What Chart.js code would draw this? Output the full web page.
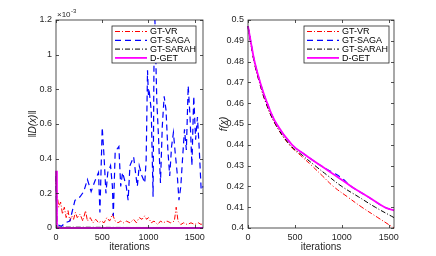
<!DOCTYPE html>
<html>
<head>
<meta charset="utf-8">
<script src="https://cdn.jsdelivr.net/npm/chart.js@4.4.1/dist/chart.umd.min.js"></script>
<style>
  body { margin: 0; background: #fff; }
  canvas { display: block; float: left; }
</style>
</head>
<body>
<canvas id="norm-chart" width="218" height="256"></canvas>
<canvas id="loss-chart" width="218" height="256"></canvas>
<script>
// series (MATLAB plot order: last one on top)
const seriesNames  = ['GT-VR', 'GT-SAGA', 'GT-SARAH', 'D-GET'];
const seriesColors = ['#ff0000', '#0000ff', '#000000', '#ff00ff'];
const seriesDash   = [[5, 2, 1, 2], [6, 4], [5, 2, 1, 2], []];
const seriesWidth  = [1, 1.2, 1, 1.8];

const xTicks    = [0, 500, 1000, 1500];
const normTicks = [0, 0.2, 0.4, 0.6, 0.8, 1, 1.2];
const lossTicks = [0.4, 0.41, 0.42, 0.43, 0.44, 0.45, 0.46, 0.47, 0.48, 0.49, 0.5];

// left panel: ||D(x)||, in units of 1e-3
const vrIter = [0, 10, 30, 50, 70, 90, 110, 130, 150, 170, 190, 210, 230, 260, 290, 320, 340, 370, 400, 430, 460, 490, 520, 550, 580, 610, 640, 670, 700, 730, 760, 800, 840, 870, 900, 930, 960, 980, 1000, 1030, 1060, 1100, 1130, 1160, 1200, 1240, 1280, 1300, 1320, 1350, 1380, 1420, 1460, 1500, 1540, 1570, 1590];
const vrNorm = [0.28, 0.2, 0.12, 0.15, 0.08, 0.12, 0.06, 0.1, 0.04, 0.07, 0.05, 0.09, 0.06, 0.08, 0.04, 0.1, 0.04, 0.06, 0.03, 0.05, 0.03, 0.04, 0.03, 0.06, 0.04, 0.08, 0.04, 0.03, 0.04, 0.03, 0.04, 0.03, 0.05, 0.03, 0.06, 0.05, 0.07, 0.05, 0.06, 0.03, 0.04, 0.02, 0.04, 0.03, 0.04, 0.03, 0.04, 0.12, 0.04, 0.02, 0.03, 0.02, 0.03, 0.02, 0.03, 0.02, 0.03];

const sagaIter = [0, 10, 60, 100, 150, 205, 260, 300, 340, 380, 420, 460, 475, 500, 520, 540, 560, 590, 610, 620, 640, 680, 700, 720, 760, 780, 800, 840, 860, 880, 900, 930, 960, 975, 990, 1000, 1010, 1030, 1050, 1060, 1070, 1090, 1110, 1130, 1150, 1170, 1190, 1210, 1230, 1250, 1270, 1290, 1310, 1330, 1350, 1370, 1390, 1410, 1430, 1450, 1470, 1490, 1510, 1530, 1550, 1570, 1590];
const sagaNorm = [0.3, 0.02, 0.01, 0.03, 0.04, 0.16, 0.18, 0.21, 0.28, 0.21, 0.27, 0.32, 0.09, 0.58, 0.41, 0.2, 0.32, 0.36, 0.24, 0.07, 0.44, 0.47, 0.24, 0.32, 0.24, 0.16, 0.36, 0.41, 0.32, 0.24, 0.36, 0.3, 0.26, 0.39, 0.91, 0.76, 0.78, 0.68, 0.18, 0.97, 1.2, 0.74, 0.51, 0.26, 0.59, 0.76, 0.68, 0.45, 0.3, 0.47, 0.55, 0.43, 0.32, 0.16, 0.24, 0.41, 0.57, 0.45, 0.82, 0.64, 0.36, 0.76, 0.51, 0.64, 0.45, 0.22, 0.24];

const sarahIter = [0, 10, 400, 800, 1200, 1590];
const sarahNorm = [0.3, 0.005, 0.004, 0.003, 0.003, 0.002];

const dgetIter = [0, 10, 1590];
const dgetNorm = [0.33, 0, 0];

// right panel: f(x)
const vrLossIter = [0, 26, 65, 122, 192, 290, 440, 558, 680, 795, 910, 1060, 1214, 1385, 1557];
const vrLoss     = [0.497, 0.49, 0.48, 0.47, 0.46, 0.45, 0.44, 0.435, 0.43, 0.425, 0.42, 0.415, 0.41, 0.405, 0.4];

const sagaLossIter = [0, 28, 70, 130, 205, 305, 470, 615, 775, 900, 1000, 1101, 1280, 1457, 1557];
const sagaLoss     = [0.497, 0.49, 0.48, 0.47, 0.46, 0.45, 0.44, 0.435, 0.43, 0.4268, 0.424, 0.42, 0.415, 0.41, 0.4085];

const sarahLossIter = [0, 26, 65, 122, 193, 292, 446, 578, 714, 855, 1000, 1178, 1357, 1557];
const sarahLoss     = [0.497, 0.49, 0.48, 0.47, 0.46, 0.45, 0.44, 0.435, 0.43, 0.425, 0.42, 0.415, 0.41, 0.405];

const dgetLossIter = [0, 28, 70, 130, 205, 305, 470, 615, 775, 940, 1101, 1280, 1457, 1557];
const dgetLoss     = [0.497, 0.49, 0.48, 0.47, 0.46, 0.45, 0.44, 0.435, 0.43, 0.425, 0.42, 0.415, 0.41, 0.4085];

const axisColor = '#262626';
const fontFamily = '"Liberation Sans", Arial, Helvetica, sans-serif';

function pairs(xs, ys) {
    return xs.map((v, i) => ({ x: v, y: ys[i] }));
}

function buildDatasets(iters, values, smooth) {
    return seriesNames.map((name, i) => ({
        label: name,
        data: pairs(iters[i], values[i]),
        borderColor: seriesColors[i],
        backgroundColor: seriesColors[i],
        borderDash: seriesDash[i],
        borderWidth: seriesWidth[i],
        pointRadius: 0,
        fill: false,
        tension: smooth ? 0.4 : 0,
        order: seriesNames.length - i,
        clip: 2
    }));
}

// box, inward ticks, legend inside the axes, exponent label
const framePlugin = {
    id: 'frame',
    afterDatasetsDraw(chart, args, opts) {
        const { ctx, chartArea: a, scales: { x, y } } = chart;
        ctx.save();
        ctx.strokeStyle = axisColor;
        ctx.lineWidth = 0.8;
        ctx.strokeRect(a.left, a.top, a.width, a.height);
        ctx.beginPath();
        x.ticks.forEach(t => {
            const px = Math.round(x.getPixelForValue(t.value)) + 0.5;
            ctx.moveTo(px, a.bottom); ctx.lineTo(px, a.bottom - 3);
            ctx.moveTo(px, a.top); ctx.lineTo(px, a.top + 3);
        });
        y.ticks.forEach(t => {
            const py = Math.round(y.getPixelForValue(t.value)) + 0.5;
            ctx.moveTo(a.left, py); ctx.lineTo(a.left + 3, py);
            ctx.moveTo(a.right, py); ctx.lineTo(a.right - 3, py);
        });
        ctx.stroke();

        // legend
        const bw = opts.legendWidth, bh = 37;
        const bx = a.right - opts.legendRight - bw, by = a.top + 6;
        ctx.fillStyle = '#fff';
        ctx.fillRect(bx, by, bw, bh);
        ctx.strokeStyle = axisColor;
        ctx.lineWidth = 0.8;
        ctx.strokeRect(bx, by, bw, bh);
        ctx.font = '9px ' + fontFamily;
        ctx.textBaseline = 'middle';
        chart.data.datasets.forEach((ds, i) => {
            const ly = by + 5.5 + i * 8.8;
            ctx.beginPath();
            ctx.strokeStyle = ds.borderColor;
            ctx.lineWidth = ds.borderWidth;
            ctx.setLineDash(ds.borderDash);
            ctx.moveTo(bx + 3, ly); ctx.lineTo(bx + 35, ly);
            ctx.stroke();
            ctx.setLineDash([]);
            ctx.fillStyle = '#000';
            ctx.fillText(ds.label, bx + 38, ly + 0.5);
        });

        if (opts.exponent) {
            ctx.fillStyle = axisColor;
            ctx.textBaseline = 'alphabetic';
            ctx.font = '8px ' + fontFamily;
            ctx.fillText('\u00d710', a.left + 1, a.top - 3);
            ctx.font = '6px ' + fontFamily;
            ctx.fillText('-3', a.left + 15, a.top - 7);
        }
        ctx.restore();
    }
};

function makeChart(el, datasets, cfg) {
    return new Chart(el, {
        type: 'line',
        data: { datasets: datasets },
        plugins: [framePlugin],
        options: {
            responsive: false,
            animation: false,
            layout: { padding: { top: 20, right: cfg.padRight, left: 0, bottom: 0 } },
            plugins: {
                legend: { display: false },
                tooltip: { enabled: false },
                frame: { legendWidth: cfg.legendWidth, legendRight: cfg.legendRight, exponent: cfg.exponent }
            },
            scales: {
                x: {
                    type: 'linear',
                    min: 0,
                    max: cfg.xMax,
                    afterBuildTicks: s => { s.ticks = xTicks.map(v => ({ value: v })); },
                    afterFit: s => { s.height = 28; },
                    grid: { display: false, drawTicks: false },
                    border: { display: false },
                    ticks: { color: axisColor, padding: 4, maxRotation: 0, font: { family: fontFamily, size: 9 }, callback: v => String(v) },
                    title: { display: true, text: 'iterations', color: axisColor, padding: { top: 0, bottom: 3 }, font: { family: fontFamily, size: 10 } }
                },
                y: {
                    type: 'linear',
                    min: cfg.yTicks[0],
                    max: cfg.yTicks[cfg.yTicks.length - 1],
                    afterBuildTicks: s => { s.ticks = cfg.yTicks.map(v => ({ value: v })); },
                    afterFit: s => { s.width = cfg.yWidth; },
                    grid: { display: false, drawTicks: false },
                    border: { display: false },
                    ticks: { color: axisColor, padding: 4, font: { family: fontFamily, size: 9 }, callback: v => String(v) },
                    title: { display: true, text: cfg.yTitle, color: axisColor, padding: cfg.yTitlePad, font: { family: fontFamily, size: 10, style: 'italic' } }
                }
            }
        }
    });
}

makeChart(document.getElementById('norm-chart'),
    buildDatasets([vrIter, sagaIter, sarahIter, dgetIter], [vrNorm, sagaNorm, sarahNorm, dgetNorm], false),
    { xMax: 1590, yTicks: normTicks, yWidth: 56, padRight: 15, legendWidth: 84, legendRight: 7,
      yTitle: '\u2016D(x)\u2016', yTitlePad: { top: 27, bottom: 0 }, exponent: true });

makeChart(document.getElementById('loss-chart'),
    buildDatasets([vrLossIter, sagaLossIter, sarahLossIter, dgetLossIter], [vrLoss, sagaLoss, sarahLoss, dgetLoss], true),
    { xMax: 1557, yTicks: lossTicks, yWidth: 30, padRight: 42, legendWidth: 85, legendRight: 5,
      yTitle: 'f(x)', yTitlePad: { top: 0, bottom: 0 }, exponent: false });
</script>
</body>
</html>
